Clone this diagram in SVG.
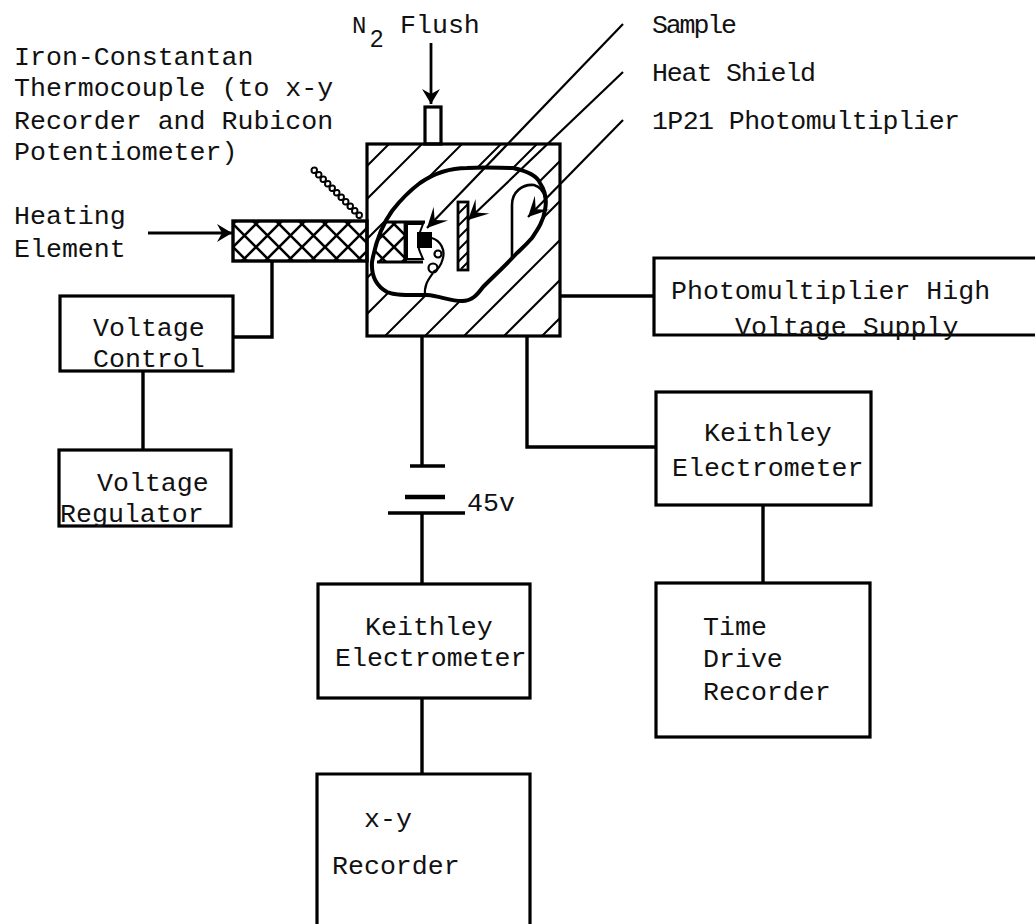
<svg xmlns="http://www.w3.org/2000/svg" width="1035" height="924" viewBox="0 0 1035 924">
<style>
text{font-family:"Liberation Mono","DejaVu Sans Mono",monospace;font-size:26.6px;fill:#111}
.b{fill:none;stroke:#000;stroke-width:3.2}
.w{fill:none;stroke:#000;stroke-width:3.4}
.t{fill:none;stroke:#000;stroke-width:2.2}
.h{fill:none;stroke:#000;stroke-width:2}
.a{fill:none;stroke:#000;stroke-width:2.8}
.tw{fill:none;stroke:#000;stroke-width:2}
</style>
<defs>
<clipPath id="boxClip"><rect x="367" y="144" width="193" height="192"/></clipPath>
<marker id="arr" markerWidth="18" markerHeight="20" refX="16" refY="10" orient="auto" markerUnits="userSpaceOnUse"><path d="M1 1L16 10L1 19L6 10Z" fill="#000"/></marker>
<marker id="lead" markerWidth="26" markerHeight="26" refX="23" refY="13" orient="auto" markerUnits="userSpaceOnUse"><path d="M3 3L23 13L3 23L12 13Z" fill="#000"/></marker>
<pattern id="mesh" width="23" height="23" patternUnits="userSpaceOnUse" patternTransform="translate(233 224)"><path d="M-2-2L25 25M-2 25L25-2" stroke="#000" stroke-width="2.6" fill="none"/></pattern>
</defs>
<rect width="1035" height="924" fill="#fff"/>
<g id="connectors">
<path class="a" d="M431 43V104" marker-end="url(#arr)"/>
<path class="a" d="M148 233H232" marker-end="url(#arr)"/>
<path class="w" d="M272 261V337H234M143 371V450M560 296H654M422 336V466M422 513V584M422 698V774M527 336V447H656M763 505V583"/>
<path class="w" d="M410 466H445M388 513H465"/>
<path d="M405 497H445" fill="none" stroke="#000" stroke-width="4.5"/>
</g>
<g id="chamber">
<rect x="425" y="107" width="16" height="37" class="b" fill="#fff"/>
<g clip-path="url(#boxClip)">
<path class="h" d="M367 166L390 143M367 199L423 143M367 239L463 143M367 278L502 143M367 314L538 143M367 354L578 143M388 373L618 143M427 373L657 143M467 373L697 143M505 373L735 143M542 373L772 143"/>
</g>
<path d="M372 262C376 240 384 222 392 211C402 198 412 189 420 183C436 172 452 168 467 168C485 167 500 168 513 168C527 171 537 176 540 183C546 192 547 200 545 210C543 222 538 229 532 238C525 246 520 250 517 253C505 266 495 275 483 287C477 295 472 301 462 301C450 301 440 296 427 295C410 295 396 296 387 292C378 287 371 278 372 262Z" fill="#fff" stroke="#000" stroke-width="4"/>
<rect x="367" y="144" width="193" height="192" class="b"/>
<path d="M374 262C376 245 380 232 386 222H407V262Z" fill="url(#mesh)" stroke="none"/>
<path class="a" d="M385 222H425M377 262H423M405 222V262"/>
<path d="M407 224H423L420 232C418 240 418 248 420 252L423 259H407Z" fill="#fff" stroke="#000" stroke-width="2"/>
<rect x="417" y="232" width="15" height="16" fill="#000"/>
<path class="t" d="M432 238C441 241 445 250 443 258C441 266 438 270 433 272"/>
<circle cx="438" cy="254" r="3.5" class="t" fill="#fff"/>
<circle cx="433" cy="268" r="4.5" class="t" fill="#fff"/>
<path class="t" d="M433 273C428 280 424 285 425 296"/>
<rect x="458" y="202" width="10" height="68" fill="#fff" stroke="#000" stroke-width="2.8"/>
<path class="h" d="M458 214L468 204M458 226L468 216M458 238L468 228M458 250L468 240M458 262L468 252M461 269L468 262"/>
<path d="M512 257V205C512 192 522 184 534 185C541 187 544 192 545 198" fill="none" stroke="#000" stroke-width="2.6"/>
</g>
<g id="leaders">
<path class="t" d="M623 24L427 228" marker-end="url(#lead)"/>
<path class="t" d="M623 72L468 220" marker-end="url(#lead)"/>
<path class="t" d="M623 120L528 217" marker-end="url(#lead)"/>
</g>
<g id="heating-element">
<rect x="233" y="221" width="134" height="40" fill="url(#mesh)" stroke="#000" stroke-width="3.4"/>
</g>
<g id="thermocouple">
<path class="tw" d="M312 168q6.500-2 4.500 4.500t4.500 4.500t4.500 4.500t4.500 4.500t4.500 4.500t4.500 4.500t4.500 4.500t4.500 4.500t4.500 4.500t4.500 4.500t4.500 4.500"/>
<path class="tw" d="M312 168q-2 6.500 4.500 4.500t4.500 4.500t4.500 4.500t4.500 4.500t4.500 4.500t4.500 4.500t4.500 4.500t4.500 4.500t4.500 4.500t4.500 4.500t4.500 4.500"/>
</g>
<g id="labels">
<text x="352" y="33" style="font-size:24px">N</text>
<text x="370" y="47" style="font-family:'Liberation Sans',sans-serif;font-size:24px">2</text>
<text x="400" y="33">Flush</text>
<text x="14" y="65">Iron-Constantan</text>
<text x="14" y="96">Thermocouple (to x-y</text>
<text x="14" y="129">Recorder and Rubicon</text>
<text x="14" y="160">Potentiometer)</text>
<text x="652" y="33" textLength="85">Sample</text>
<text x="652" y="81" textLength="164">Heat Shield</text>
<text x="652" y="129" textLength="308">1P21 Photomultiplier</text>
<text x="14" y="224">Heating</text>
<text x="14" y="257">Element</text>
<text x="467" y="511">45v</text>
</g>
<g id="voltage-control"><rect x="60" y="296" width="173" height="75" class="b"/><text x="93" y="336">Voltage</text><text x="93" y="367">Control</text></g>
<g id="voltage-regulator"><rect x="59" y="450" width="172" height="76" class="b"/><text x="97" y="491">Voltage</text><text x="60" y="522">Regulator</text></g>
<g id="hv-supply"><path class="b" d="M1035 258H654V335H1035"/><text x="671" y="299">Photomultiplier High</text><text x="735" y="335">Voltage Supply</text></g>
<g id="electrometer-right"><rect x="656" y="392" width="215" height="113" class="b"/><text x="704" y="441">Keithley</text><text x="672" y="476">Electrometer</text></g>
<g id="time-drive"><rect x="656" y="583" width="214" height="154" class="b"/><text x="703" y="635">Time</text><text x="703" y="667">Drive</text><text x="703" y="700">Recorder</text></g>
<g id="electrometer-center"><rect x="318" y="584" width="212" height="114" class="b"/><text x="365" y="635">Keithley</text><text x="335" y="666">Electrometer</text></g>
<g id="xy-recorder"><path class="b" d="M317 924V774H530V924"/><text x="364" y="827">x-y</text><text x="332" y="874">Recorder</text></g>
</svg>
